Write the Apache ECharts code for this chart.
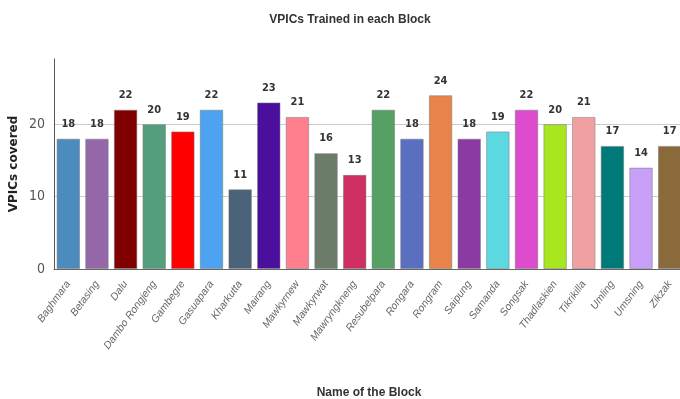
<!DOCTYPE html>
<html><head><meta charset="utf-8">
<script src="https://cdn.jsdelivr.net/npm/echarts@6/dist/echarts.min.js"></script>
<style>html,body{margin:0;padding:0;background:#fff}#c{width:680px;height:399px}</style>
</head><body><div id="c"></div>
<script>
const categories = ["Baghmara","Betasing","Dalu","Dambo Rongjeng","Gambegre","Gasuapara","Kharkutta","Mairang","Mawkyrnew","Mawkyrwat","Mawryngkneng","Resubelpara","Rongara","Rongram","Saipung","Samanda","Songsak","Thadlaskien","Tikrikilla","Umling","Umsning","Zikzak"];
const values = [18,18,22,20,19,22,11,23,21,16,13,22,18,24,18,19,22,20,21,17,14,17];
const colors = ["#4b8bbe","#9467a8","#800000","#559e7d","#ff0000","#4da3f0","#4a6378","#4b0f9e","#ff7f8e","#6b7d68","#cc2f60","#57a065","#5a6fc0","#e8834a","#8a3aa0","#5cd8e0","#dd4ccc","#a8e620","#f0a0a0","#007a78","#c8a0f8","#8a6a3a"];
const yTicks = [0,10,20];

const chart = echarts.init(document.getElementById('c'));
chart.setOption({
  animation:false,
  title:{text:'VPICs Trained in each Block',left:345,textAlign:'center',top:9,textStyle:{fontSize:12,fontWeight:'bold',color:'#333',fontFamily:'Liberation Sans'}},
  grid:{left:54,right:-4,top:59,bottom:130,containLabel:false,outerBoundsMode:'none'},
  xAxis:{type:'category',data:categories,name:'Name of the Block',nameLocation:'middle',nameGap:118,
    nameTextStyle:{fontSize:12,fontWeight:'bold',color:'#333',fontFamily:'Liberation Sans'},
    axisLine:{lineStyle:{color:'#666'}},axisTick:{show:false},
    axisLabel:{rotate:54,interval:0,color:'#666',fontSize:10.5,fontStyle:'italic',fontFamily:'Liberation Sans',margin:13}},
  yAxis:{type:'value',min:0,max:29,interval:10,name:'VPICs covered',nameLocation:'middle',nameGap:34,nameMoveOverlap:false,
    nameTextStyle:{fontSize:12,fontWeight:'bold',color:'#222',fontFamily:'DejaVu Sans'},
    axisLine:{show:true,lineStyle:{color:'#555'}},axisTick:{show:false},
    axisLabel:{color:'#555',fontSize:14,fontFamily:'DejaVu Sans Condensed, Liberation Sans, sans-serif',showMaxLabel:false,margin:9,
      formatter:v=>yTicks.includes(v)?String(v):''},
    splitLine:{lineStyle:{color:'#ccc'},showMaxLine:false}},
  series:[{type:'bar',barCategoryGap:'18%',
    data:values.map((v,i)=>({value:v,itemStyle:{color:colors[i],borderColor:'rgba(120,120,120,0.5)',borderWidth:1}})),
    label:{show:true,position:'top',distance:9,color:'#333',fontSize:11,fontWeight:'bold',fontFamily:'DejaVu Sans Condensed, Liberation Sans, sans-serif'}}]
});
</script></body></html>
